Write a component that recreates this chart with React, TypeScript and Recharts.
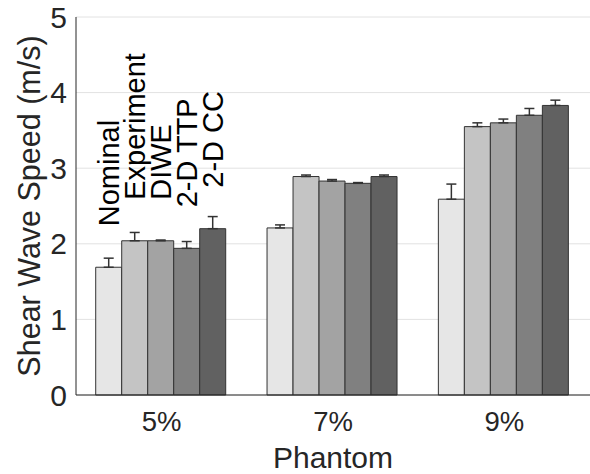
import { BarChart, Bar, XAxis, YAxis, CartesianGrid, ErrorBar, LabelList } from 'recharts';

const phantoms = ['5%', '7%', '9%'];
const methods = ['Nominal', 'Experiment', 'DIWE', '2-D TTP', '2-D CC'];
const methodKeys = ['nominal', 'experiment', 'diwe', 'ttp', 'cc'];
const methodColors = ['#e6e6e6', '#c4c4c4', '#a3a3a3', '#808080', '#616161'];

// mean speeds and upper error (m/s)
const nominal = [1.69, 2.21, 2.59];
const nominalErr = [0.12, 0.04, 0.2];
const experiment = [2.04, 2.89, 3.55];
const experimentErr = [0.11, 0.02, 0.05];
const diwe = [2.04, 2.83, 3.6];
const diweErr = [0.01, 0.02, 0.05];
const ttp = [1.94, 2.8, 3.7];
const ttpErr = [0.09, 0.01, 0.09];
const cc = [2.2, 2.89, 3.83];
const ccErr = [0.16, 0.02, 0.07];

const yTicks = [0, 1, 2, 3, 4, 5];

const values = [nominal, experiment, diwe, ttp, cc];
const errors = [nominalErr, experimentErr, diweErr, ttpErr, ccErr];

const data = phantoms.map((p, i) => {
  const row: any = { phantom: p };
  methodKeys.forEach((k, m) => {
    row[k] = values[m][i];
    row[k + 'Err'] = [0, errors[m][i]];
  });
  return row;
});

const FONT = '"Liberation Sans", Arial, sans-serif';
const INK = '#262626';

// rotated method name above the first group's bars only
const methodLabel = (name: string) => (props: any) => {
  if (props.index !== 0) return null;
  const vb = props.viewBox ?? props;
  const cx = vb.x + vb.width / 2;
  const cy = vb.y - 41;
  return (
    <text
      x={cx}
      y={cy}
      transform={`rotate(-90 ${cx} ${cy})`}
      textAnchor="start"
      dominantBaseline="central"
      fontSize={29}
      fontFamily={FONT}
      fill="#000"
    >
      {name}
    </text>
  );
};

const YTitle = (props: any) => {
  const vb = props.viewBox;
  const cx = 29;
  const cy = vb.y + vb.height / 2;
  return (
    <text
      x={cx}
      y={cy}
      transform={`rotate(-90 ${cx} ${cy})`}
      textAnchor="middle"
      dominantBaseline="central"
      fontSize={30.5}
      fontFamily={FONT}
      fill={INK}
    >
      Shear Wave Speed (m/s)
    </text>
  );
};

export default function App() {
  return (
    <div style={{ position: 'absolute', left: 0, top: 0, background: '#fff' }}>
      <BarChart
        width={590}
        height={474}
        data={data}
        margin={{ top: 17, right: 0, left: 0, bottom: 0 }}
        barCategoryGap="11.5%"
        barGap={0}
      >
        <CartesianGrid vertical={false} stroke="#e2e2e2" />
        <XAxis
          dataKey="phantom"
          height={79}
          axisLine={{ stroke: INK }}
          tickLine={false}
          tickSize={0}
          tickMargin={16}
          tick={{ fill: INK, fontSize: 27.5, fontFamily: FONT }}
          label={{ value: 'Phantom', position: 'insideBottom', offset: 6, fill: INK, fontSize: 30, fontFamily: FONT }}
        />
        <YAxis
          width={76}
          domain={[0, 5]}
          ticks={yTicks}
          axisLine={{ stroke: INK }}
          tickLine={false}
          tickSize={0}
          tickMargin={9}
          tick={{ fill: INK, fontSize: 30, fontFamily: FONT }}
          label={<YTitle />}
        />
        {methodKeys.map((k, m) => (
          <Bar
            key={k}
            dataKey={k}
            name={methods[m]}
            fill={methodColors[m]}
            stroke="#333"
            strokeWidth={1}
            isAnimationActive={false}
          >
            <ErrorBar dataKey={k + 'Err'} width={5} stroke="#333" strokeWidth={1.5} direction="y" isAnimationActive={false} />
            <LabelList dataKey={k} content={methodLabel(methods[m])} />
          </Bar>
        ))}
      </BarChart>
    </div>
  );
}
